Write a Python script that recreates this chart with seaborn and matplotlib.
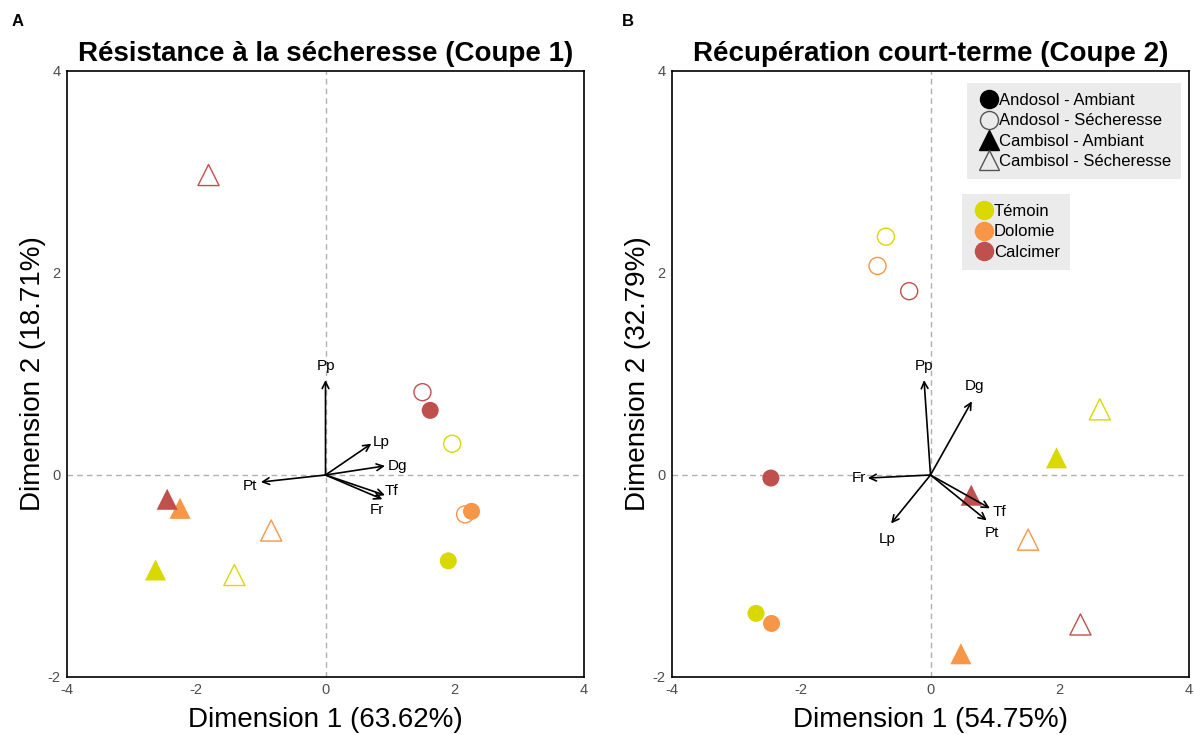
import numpy as np
import pandas as pd
import seaborn as sns
import matplotlib.pyplot as plt
from matplotlib.lines import Line2D

# Groups: soil - condition, amendment
soil_cond = ['Andosol - Ambiant', 'Andosol - Sécheresse', 'Cambisol - Ambiant', 'Cambisol - Sécheresse']
amendments = ['Témoin', 'Dolomie', 'Calcimer']
colors = ['#d9d900', '#f79646', '#c0504d']

# Panel A: individuals (order: soil_cond x amendments)
a_x = [1.90, 2.26, 1.62,  1.96, 2.16, 1.50,  -2.63, -2.25, -2.45,  -1.41, -0.84, -1.81]
a_y = [-0.85, -0.36, 0.64,  0.31, -0.39, 0.82,  -0.94, -0.33, -0.24,  -0.99, -0.55, 2.97]
# Panel A: variable loadings
a_vars = ['Pp', 'Lp', 'Dg', 'Pt', 'Tf', 'Fr']
a_vx = [0.00, 0.71, 0.92, -1.00, 0.92, 0.88]
a_vy = [0.94, 0.31, 0.09, -0.07, -0.20, -0.24]

# Panel B
b_x = [-2.70, -2.46, -2.47,  -0.69, -0.82, -0.33,  1.95, 0.47, 0.63,  2.62, 1.51, 2.32]
b_y = [-1.37, -1.47, -0.03,  2.36, 2.07, 1.82,  0.17, -1.77, -0.20,  0.65, -0.64, -1.48]
b_vars = ['Pp', 'Dg', 'Fr', 'Lp', 'Tf', 'Pt']
b_vx = [-0.10, 0.64, -0.97, -0.61, 0.92, 0.87]
b_vy = [0.94, 0.73, -0.03, -0.48, -0.33, -0.45]

titles = ['Résistance à la sécheresse (Coupe 1)', 'Récupération court-terme (Coupe 2)']
xlabels = ['Dimension 1 (63.62%)', 'Dimension 1 (54.75%)']
ylabels = ['Dimension 2 (18.71%)', 'Dimension 2 (32.79%)']

# label offsets (points) for arrow labels
a_off = {'Pp': (0, 5, 'center', 'bottom'), 'Lp': (1, 1, 'left', 'center'), 'Dg': (2, 0, 'left', 'center'),
         'Pt': (-3, -3, 'right', 'center'), 'Tf': (0, 3, 'left', 'center'), 'Fr': (-4, -8, 'center', 'center')}
b_off = {'Pp': (0, 5, 'center', 'bottom'), 'Dg': (2, 6, 'center', 'bottom'), 'Fr': (-1, 0, 'right', 'center'),
         'Lp': (-3, -6, 'center', 'top'), 'Tf': (2, -3, 'left', 'center'), 'Pt': (4, -4, 'center', 'top')}


def make_df(xs, ys):
    rows = []
    k = 0
    for sc in soil_cond:
        for am in amendments:
            rows.append({'x': xs[k], 'y': ys[k], 'group': sc, 'amend': am})
            k += 1
    return pd.DataFrame(rows)


def draw_panel(ax, df, vars_, vx, vy, offs):
    ax.axhline(0, color='#b0b0b0', lw=1, ls=(0, (4, 3)), zorder=0)
    ax.axvline(0, color='#b0b0b0', lw=1, ls=(0, (4, 3)), zorder=0)
    pal = dict(zip(amendments, colors))
    for sc in soil_cond:
        sub = df[df['group'] == sc]
        marker = 'o' if sc.startswith('Andosol') else '^'
        size = 150 if marker == 'o' else 230
        sns.scatterplot(data=sub, x='x', y='y', hue='amend', palette=pal, marker=marker,
                        s=size, linewidth=0, legend=False, ax=ax, zorder=3)
        if 'Sécheresse' in sc:
            # open symbols for drought plots
            coll = ax.collections[-1]
            fc = coll.get_facecolors()
            coll.set_edgecolors(fc)
            coll.set_facecolors('none')
            coll.set_linewidths(1.0)
    for name, x, y in zip(vars_, vx, vy):
        ax.annotate('', xy=(x, y), xytext=(0, 0),
                    arrowprops=dict(arrowstyle='->', color='black', lw=1.2,
                                    shrinkA=0, shrinkB=0), zorder=4)
        dx, dy, ha, va = offs[name]
        ax.annotate(name, xy=(x, y), xytext=(dx, dy), textcoords='offset points',
                    ha=ha, va=va, fontsize=11, color='black', zorder=5)
    ax.set_xlim(-4, 4)
    ax.set_ylim(-2, 4)
    ax.set_xticks([-4, -2, 0, 2, 4])
    ax.set_yticks([-2, 0, 2, 4])
    for sp in ax.spines.values():
        sp.set_color('black')
        sp.set_linewidth(1.2)
    ax.tick_params(colors='#4d4d4d', labelsize=10.5, length=3, width=0.8, pad=1.5,
                   labelcolor='#4d4d4d')
    ax.grid(False)


sns.set_theme(style='white')
plt.rcParams['font.family'] = ['Liberation Sans', 'DejaVu Sans']
plt.rcParams['axes.unicode_minus'] = False
plt.rcParams['text.color'] = 'black'
plt.rcParams['axes.labelcolor'] = 'black'

fig = plt.figure(figsize=(11.94, 7.35), dpi=100)
ax1 = fig.add_axes([67 / 1194, 58 / 735, 517 / 1194, 606 / 735])
ax2 = fig.add_axes([672 / 1194, 58 / 735, 517 / 1194, 606 / 735])

panels = [(ax1, make_df(a_x, a_y), a_vars, a_vx, a_vy, a_off),
          (ax2, make_df(b_x, b_y), b_vars, b_vx, b_vy, b_off)]

for i, (ax, df, vars_, vx, vy, offs) in enumerate(panels):
    draw_panel(ax, df, vars_, vx, vy, offs)
    ax.set_title(titles[i], fontsize=20, fontweight='bold', pad=7, color='black')
    ax.set_xlabel(xlabels[i], fontsize=20, labelpad=7, color='black')
    ax.set_ylabel(ylabels[i], fontsize=20, labelpad=1, color='black')

fig.text(18 / 1194, 1 - 22 / 735, 'A', fontsize=12, fontweight='bold', ha='center', va='center')
fig.text(628 / 1194, 1 - 22 / 735, 'B', fontsize=12, fontweight='bold', ha='center', va='center')

# legends in panel B
h1 = [Line2D([], [], ls='', marker='o', ms=13, mfc='black', mec='black'),
      Line2D([], [], ls='', marker='o', ms=13, mfc='none', mec='#555555', mew=1),
      Line2D([], [], ls='', marker='^', ms=15, mfc='black', mec='black'),
      Line2D([], [], ls='', marker='^', ms=15, mfc='none', mec='#555555', mew=1)]
leg1 = ax2.legend(h1, soil_cond, loc='upper right', bbox_to_anchor=(0.985, 0.98),
                  fontsize=12, frameon=True, facecolor='#ebebeb', edgecolor='none', framealpha=1,
                  fancybox=False, handletextpad=-0.1, handlelength=1.4, labelspacing=0.32,
                  borderpad=0.6, borderaxespad=0, labelcolor='black')
ax2.add_artist(leg1)
h2 = [Line2D([], [], ls='', marker='o', ms=13, mfc=c, mec=c) for c in colors]
leg2 = ax2.legend(h2, amendments, loc='upper left', bbox_to_anchor=(0.561, 0.797),
                  fontsize=12, frameon=True, facecolor='#ebebeb', edgecolor='none', framealpha=1,
                  fancybox=False, handletextpad=-0.1, handlelength=1.4, labelspacing=0.32,
                  borderpad=0.6, borderaxespad=0, labelcolor='black')

fig.savefig('out.png', dpi=100)
